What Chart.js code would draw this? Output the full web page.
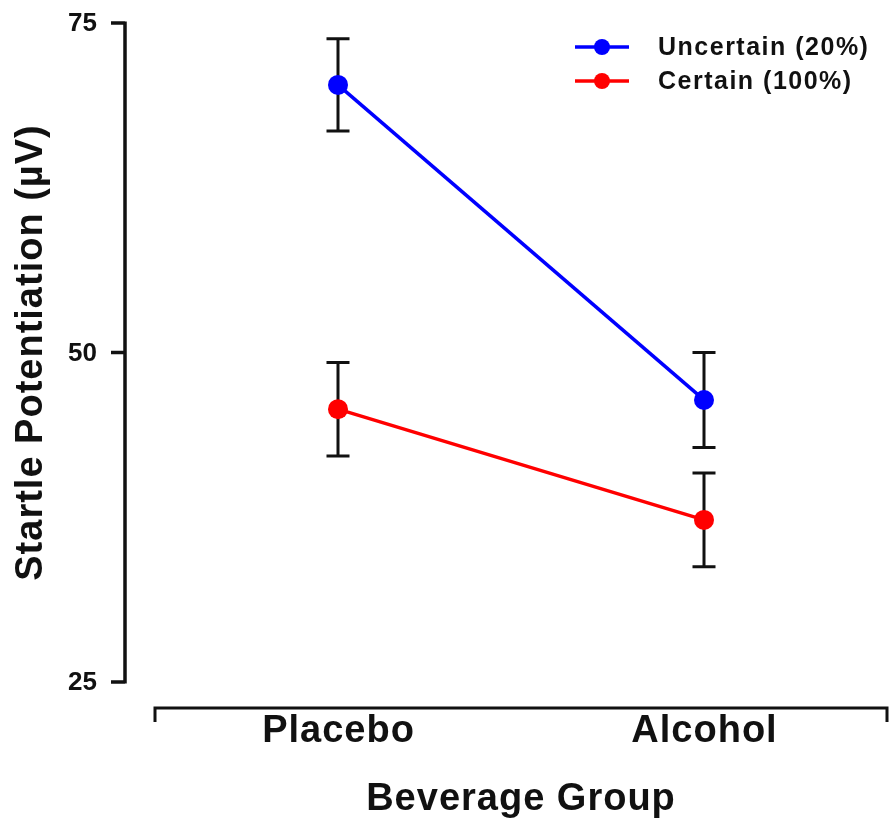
<!DOCTYPE html>
<html>
<head>
<meta charset="utf-8">
<title>Startle Potentiation by Beverage Group</title>
<script src="https://cdn.jsdelivr.net/npm/chart.js@4/dist/chart.umd.min.js"></script>
<style>
  html, body { margin: 0; padding: 0; background: #ffffff; }
  #wrap { width: 890px; height: 823px; }
</style>
</head>
<body>
<div id="wrap"><canvas id="chart" width="890" height="823"></canvas></div>
<script>
// Beverage groups along the x axis (placed at positions 1 and 2)
const groups = ['Placebo', 'Alcohol'];
const groupPositions = [1, 2];

// Mean startle potentiation (µV) for each threat condition
const uncertainMeans = [70.3, 46.4];
const certainMeans = [45.7, 37.3];

// Standard errors shown as error bars
const uncertainSE = [3.5, 3.6];
const certainSE = [3.55, 3.55];

// Y axis tick values
const yTicks = [25, 50, 75];

const seriesNames = ['Uncertain (20%)', 'Certain (100%)'];
const seriesColors = ['#0000ff', '#ff0000'];

const FONT = '"Liberation Sans", Arial, Helvetica, sans-serif';

function toPoints(means) {
  return means.map((m, i) => ({ x: groupPositions[i], y: m }));
}

// Error bars, drawn underneath the lines and markers
const errorBars = {
  id: 'errorBars',
  beforeDatasetsDraw(chart) {
    const { ctx, scales: { x, y } } = chart;
    const seList = [uncertainSE, certainSE];
    ctx.save();
    ctx.strokeStyle = '#111111';
    ctx.lineWidth = 3;
    chart.data.datasets.forEach((ds, d) => {
      ds.data.forEach((p, i) => {
        const px = x.getPixelForValue(p.x);
        const top = y.getPixelForValue(p.y + seList[d][i]);
        const bot = y.getPixelForValue(p.y - seList[d][i]);
        const half = 11.5;
        ctx.beginPath();
        ctx.moveTo(px, top); ctx.lineTo(px, bot);
        ctx.moveTo(px - half, top); ctx.lineTo(px + half, top);
        ctx.moveTo(px - half, bot); ctx.lineTo(px + half, bot);
        ctx.stroke();
      });
    });
    ctx.restore();
  }
};

// Detached axes, axis titles and the legend
const frame = {
  id: 'frame',
  afterDraw(chart) {
    const { ctx, chartArea: a, scales: { x, y } } = chart;
    ctx.save();
    ctx.strokeStyle = '#111111';
    ctx.fillStyle = '#111111';
    ctx.lineWidth = 3.5;
    ctx.lineCap = 'butt';

    // y axis, set off to the left of the plotting region
    const yAxisX = a.left - 30;
    const yMin = y.getPixelForValue(yTicks[0]);
    const yMax = y.getPixelForValue(yTicks[yTicks.length - 1]);
    ctx.beginPath();
    ctx.moveTo(yAxisX, yMax - 1.5);
    ctx.lineTo(yAxisX, yMin + 1.5);
    yTicks.forEach(t => {
      const py = y.getPixelForValue(t);
      ctx.moveTo(yAxisX, py);
      ctx.lineTo(yAxisX - 14, py);
    });
    ctx.stroke();

    ctx.font = 'bold 26px ' + FONT;
    ctx.textAlign = 'right';
    ctx.textBaseline = 'middle';
    yTicks.forEach(t => {
      ctx.fillText(String(t), yAxisX - 28, y.getPixelForValue(t) + 1);
    });

    // x axis, set off below the plotting region
    const xAxisY = a.bottom + 26;
    ctx.lineWidth = 3;
    ctx.beginPath();
    ctx.moveTo(a.left, xAxisY + 14);
    ctx.lineTo(a.left, xAxisY);
    ctx.lineTo(a.right, xAxisY);
    ctx.lineTo(a.right, xAxisY + 14);
    ctx.stroke();

    ctx.font = 'bold 38px ' + FONT;
    ctx.letterSpacing = '1px';
    ctx.textAlign = 'center';
    ctx.textBaseline = 'alphabetic';
    groups.forEach((g, i) => {
      ctx.fillText(g, x.getPixelForValue(groupPositions[i]) + 0.5, xAxisY + 34);
    });

    // axis titles
    ctx.fillText('Beverage Group', (a.left + a.right) / 2, 810);
    ctx.save();
    ctx.translate(42, (yMin + yMax) / 2);
    ctx.rotate(-Math.PI / 2);
    ctx.font = 'bold 38px ' + FONT;
    ctx.fillText('Startle Potentiation (µV)', 0, 0);
    ctx.restore();

    // legend
    ctx.font = 'bold 25px ' + FONT;
    ctx.letterSpacing = '1.5px';
    ctx.textAlign = 'left';
    ctx.textBaseline = 'middle';
    seriesNames.forEach((name, i) => {
      const ly = 47 + i * 34;
      ctx.strokeStyle = seriesColors[i];
      ctx.fillStyle = seriesColors[i];
      ctx.lineWidth = 3.5;
      ctx.beginPath();
      ctx.moveTo(575, ly);
      ctx.lineTo(629, ly);
      ctx.stroke();
      ctx.beginPath();
      ctx.arc(602, ly, 8, 0, Math.PI * 2);
      ctx.fill();
      ctx.fillStyle = '#111111';
      ctx.fillText(name, 658, ly + 1);
    });
    ctx.restore();
  }
};

new Chart(document.getElementById('chart'), {
  type: 'line',
  data: {
    datasets: [
      {
        label: seriesNames[0],
        data: toPoints(uncertainMeans),
        borderColor: seriesColors[0],
        backgroundColor: seriesColors[0],
        pointBackgroundColor: seriesColors[0],
        pointBorderWidth: 0,
        pointRadius: 10,
        borderWidth: 3.5,
        clip: false
      },
      {
        label: seriesNames[1],
        data: toPoints(certainMeans),
        borderColor: seriesColors[1],
        backgroundColor: seriesColors[1],
        pointBackgroundColor: seriesColors[1],
        pointBorderWidth: 0,
        pointRadius: 10,
        borderWidth: 3.5,
        clip: false
      }
    ]
  },
  options: {
    responsive: false,
    animation: false,
    devicePixelRatio: 1,
    layout: { autoPadding: false, padding: { left: 155, right: 3, top: 23, bottom: 141 } },
    scales: {
      x: { type: 'linear', min: 0.5, max: 2.5, display: false },
      y: { type: 'linear', min: 25, max: 75, display: false }
    },
    plugins: {
      legend: { display: false },
      tooltip: { enabled: false }
    }
  },
  plugins: [errorBars, frame]
});
</script>
</body>
</html>
